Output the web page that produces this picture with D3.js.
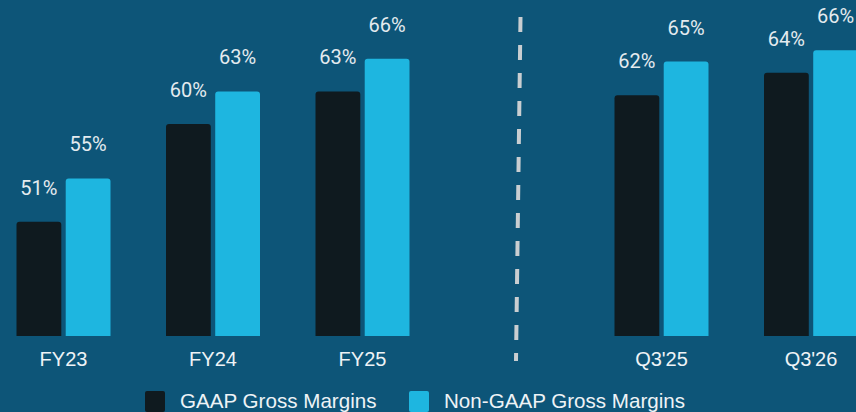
<!DOCTYPE html>
<html>
<head>
<meta charset="utf-8">
<script src="https://cdn.jsdelivr.net/npm/d3@7"></script>
<style>
  html, body { margin: 0; padding: 0; background: #0d5578; }
  svg { display: block; }
  text { fill: #eef3f6; }
  .value { font-family: Roboto, "Noto Sans", sans-serif; font-weight: 400; fill: #e4ebef; }
  .cat, .legend-label { font-family: "Liberation Sans", Arial, sans-serif; }
</style>
</head>
<body>
<svg id="chart" width="856" height="412"></svg>
<script>
// Gross margin data (percent)
const periods = ["FY23", "FY24", "FY25", "", "Q3'25", "Q3'26"];
const panels = ["annual", "annual", "annual", null, "quarterly", "quarterly"];
const seriesNames = ["GAAP Gross Margins", "Non-GAAP Gross Margins"];
const gaapValues = [51, 60, 63, null, 62, 64];
const nonGaapValues = [55, 63, 66, null, 65, 66];
const seriesColors = ["#0f1a1f", "#1eb6e0"];

const svg = d3.select("#chart");
const baseline = 336;

const x = d3.scalePoint().domain(periods).range([63.5, 811]);
const xSeries = d3.scaleBand().domain(seriesNames).range([-47, 47]).paddingInner(0.09);

// Each panel (fiscal years, quarters) has its own value axis
const yScales = {
  annual: d3.scaleLinear().domain([40.5, 40.5 + baseline / 10.87]).range([baseline, 0]),
  quarterly: d3.scaleLinear().domain([40.6, 40.6 + baseline / 11.25]).range([baseline, 0])
};

const rows = periods.map((p, i) => ({ period: p, panel: panels[i], values: [gaapValues[i], nonGaapValues[i]] }))
  .filter(d => d.period !== "");

const groups = svg.append("g").selectAll("g.period")
  .data(rows).join("g")
  .attr("class", "period")
  .attr("transform", d => `translate(${x(d.period)},0)`);

const bars = groups.selectAll("g.bar")
  .data(d => d.values.map((v, k) => ({ name: seriesNames[k], value: v, k, y: yScales[d.panel] })))
  .join("g").attr("class", "bar");

bars.append("path")
  .attr("fill", d => seriesColors[d.k])
  .attr("d", d => {
    const x0 = xSeries(d.name), w = xSeries.bandwidth();
    const top = d.y(d.value), r = 3;
    return `M${x0},${baseline}V${top + r}Q${x0},${top} ${x0 + r},${top}H${x0 + w - r}Q${x0 + w},${top} ${x0 + w},${top + r}V${baseline}Z`;
  });

bars.append("text")
  .attr("class", "value")
  .attr("x", d => xSeries(d.name) + xSeries.bandwidth() / 2)
  .attr("y", d => d.y(d.value) - 27)
  .attr("text-anchor", "middle")
  .attr("font-size", 20)
  .text(d => d.value + "%");

// Period labels
svg.append("g").selectAll("text")
  .data(rows).join("text")
  .attr("class", "cat")
  .attr("x", d => x(d.period))
  .attr("y", 366)
  .attr("text-anchor", "middle")
  .attr("font-size", 20)
  .text(d => d.period);

// Separator between fiscal years and quarters
svg.append("line")
  .attr("x1", 520.5).attr("y1", 17)
  .attr("x2", 516).attr("y2", 361)
  .attr("stroke", "#c9ced1")
  .attr("stroke-width", 4)
  .attr("stroke-dasharray", "15 13");

// Legend
const legendItems = [
  { name: seriesNames[0], color: seriesColors[0], x: 145 },
  { name: seriesNames[1], color: seriesColors[1], x: 409 }
];
const legend = svg.append("g").selectAll("g")
  .data(legendItems).join("g")
  .attr("transform", d => `translate(${d.x},391)`);
legend.append("rect")
  .attr("width", 20).attr("height", 21).attr("rx", 2)
  .attr("fill", d => d.color);
legend.append("text")
  .attr("class", "legend-label")
  .attr("x", 35).attr("y", 17)
  .attr("font-size", 20.6)
  .text(d => d.name);
</script>
</body>
</html>
